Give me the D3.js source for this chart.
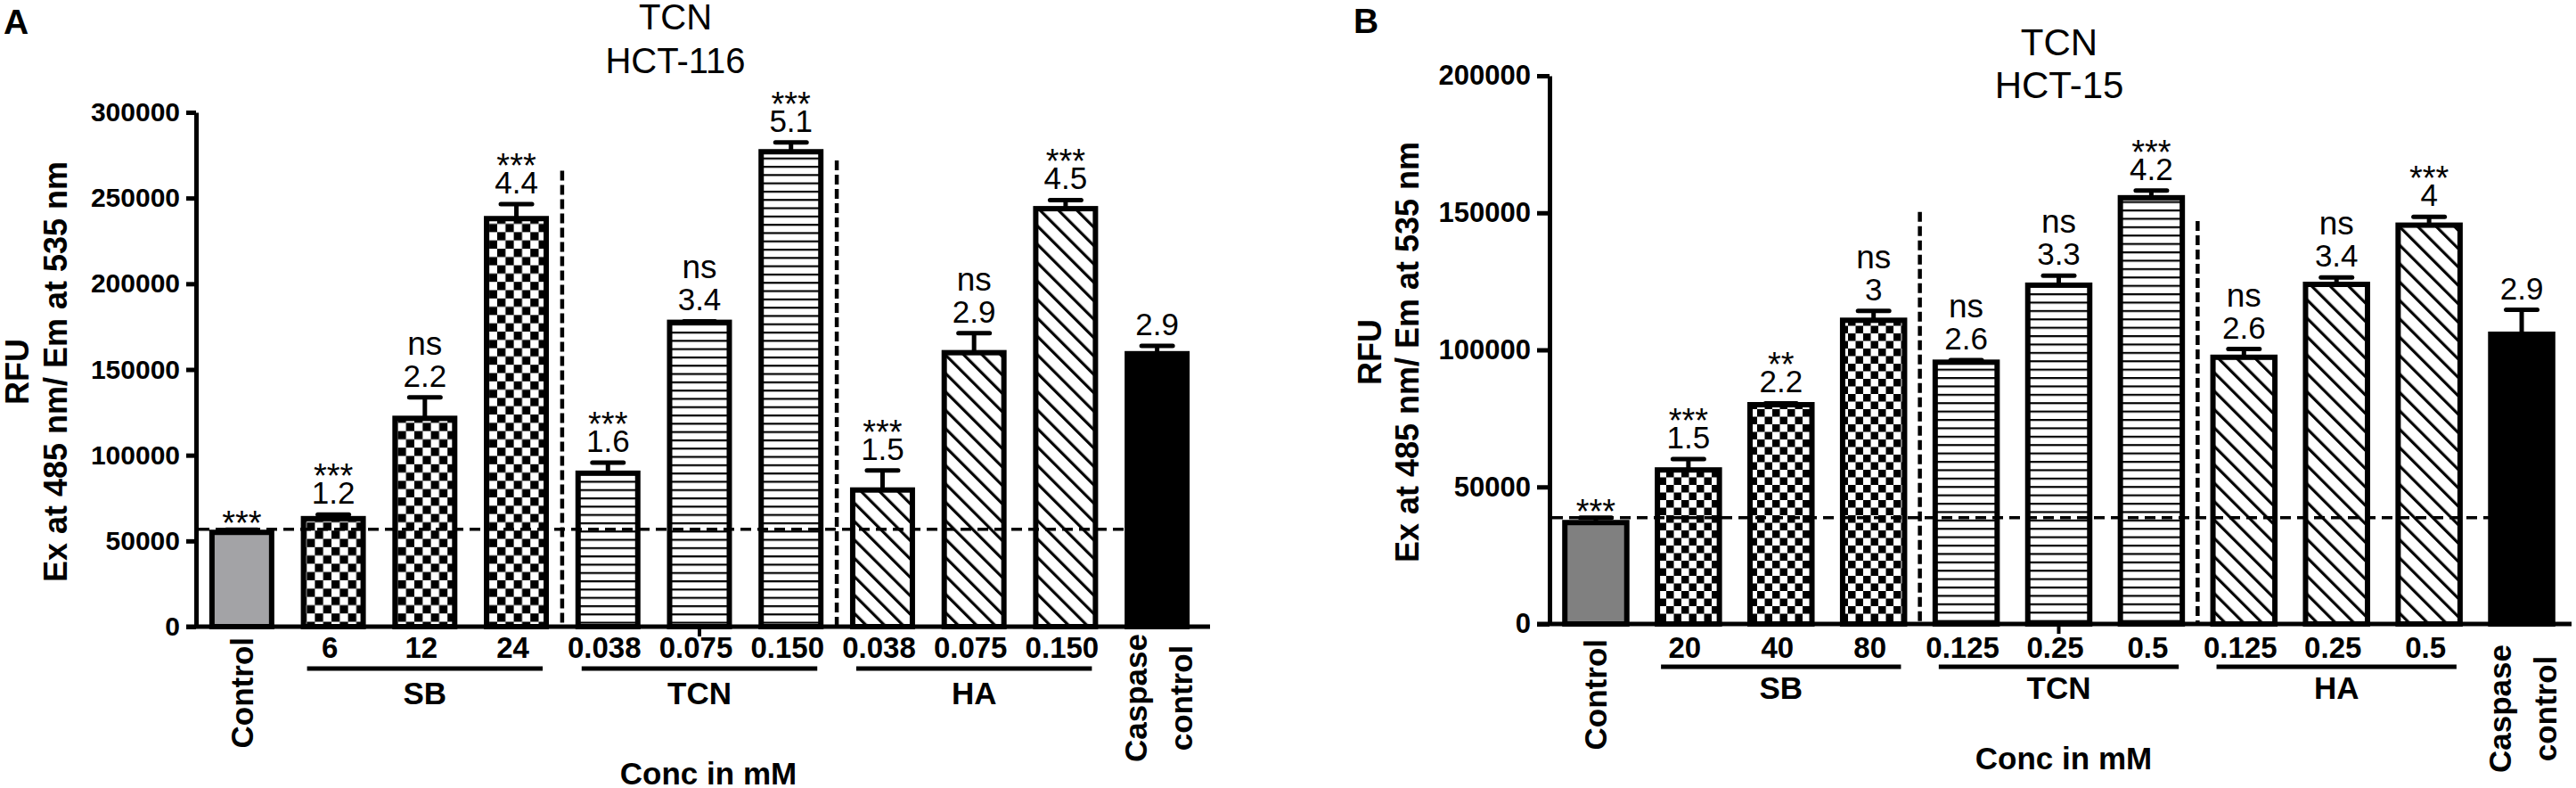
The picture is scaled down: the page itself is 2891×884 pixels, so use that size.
<!DOCTYPE html>
<html><head><meta charset="utf-8">
<script src="https://cdn.jsdelivr.net/npm/d3@7"></script>
<style>
body{margin:0;background:#fff}
svg text{font-family:"Liberation Sans",Arial,Helvetica,sans-serif;fill:#000}
</style>
</head><body>
<svg id="chart" width="2891" height="884"></svg>
<script>
// ---------------- DATA ----------------
const xGroups = ["SB", "TCN", "HA"];
const groupsA = ["Control","SB","SB","SB","TCN","TCN","TCN","HA","HA","HA","Caspase"];
const groupsB = ["Control","SB","SB","SB","TCN","TCN","TCN","HA","HA","HA","Caspase"];
const fillKinds = ["control","checker","checker","checker","hlines","hlines","hlines","hatch","hatch","hatch","solid"];

const labelsA = ["Control","6","12","24","0.038","0.075","0.150","0.038","0.075","0.150","Caspase control"];
const meansA  = [55000, 63000, 121500, 238000, 89500, 177500, 277000, 79700, 159800, 243800, 159200];
const errorsA = [1500, 2400, 12200, 8500, 6200, 600, 5500, 11400, 11400, 5000, 4600];
const foldA   = ["", "1.2", "2.2", "4.4", "1.6", "3.4", "5.1", "1.5", "2.9", "4.5", "2.9"];
const sigA    = ["***", "***", "ns", "***", "***", "ns", "***", "***", "ns", "***", ""];
const yTicksA = [0, 50000, 100000, 150000, 200000, 250000, 300000];
const refLineA = 56800;
const sepAfterA = [3, 6];
const sepTopsA = [265900, 271900];

const labelsB = ["Control","20","40","80","0.125","0.25","0.5","0.125","0.25","0.5","Caspase control"];
const meansB  = [37000, 56200, 80000, 110800, 95500, 123600, 155500, 97300, 123900, 145500, 105700];
const errorsB = [1800, 4000, 500, 3400, 800, 3500, 2600, 3000, 2500, 3000, 8900];
const foldB   = ["", "1.5", "2.2", "3", "2.6", "3.3", "4.2", "2.6", "3.4", "4", "2.9"];
const sigB    = ["***", "***", "**", "ns", "ns", "ns", "***", "ns", "ns", "***", ""];
const yTicksB = [0, 50000, 100000, 150000, 200000];
const refLineB = 38800;
const sepAfterB = [3, 6];
const sepTopsB = [150300, 147000];

const titleA = ["TCN", "HCT-116"];
const titleB = ["TCN", "HCT-15"];
const yTitle = ["RFU", "Ex at 485 nm/ Em at 535 nm"];
const xTitle = "Conc in mM";

// ---------------- LAYOUT ----------------
const layoutA = {
  id:"A", letterX:4, letterY:38,
  axisX:220, axisEnd:1358, yTop:126, y0:703, bandEnd:1350, pad:0.348,
  tickLen:11, tickGap:7, tickFont:30,
  titleX:758, titleY:[33,82], titleFont:40,
  yTitleX:[32,75], yTitleY:417,
  xLabelY:738, groupLineY:750, groupNameY:790, rotTop:715, caspY:783,
  concX:795, concY:880,
  checker:9.3, hline:9.3, hatch:14.6, controlFill:"#a3a3a6"
};
const layoutB = {
  id:"B", letterX:1519, letterY:37,
  axisX:1739, axisEnd:2886, yTop:85, y0:700, bandEnd:2882, pad:0.331,
  tickLen:14, tickGap:7, tickFont:31,
  titleX:2311, titleY:[62,110], titleFont:42,
  yTitleX:[1550,1592], yTitleY:395,
  xLabelY:738, groupLineY:748, groupNameY:784, rotTop:717, caspY:795,
  concX:2316, concY:863,
  checker:8.5, hline:9.4, hatch:14.6, controlFill:"#808080"
};

const svg = d3.select("#chart");
const defs = svg.append("defs");

function makePatterns(L) {
  const c = L.checker;
  const pc = defs.append("pattern").attr("id","checker"+L.id)
    .attr("patternUnits","userSpaceOnUse").attr("width",2*c).attr("height",2*c);
  pc.append("rect").attr("width",2*c).attr("height",2*c).attr("fill","#fff");
  pc.append("rect").attr("width",c).attr("height",c).attr("fill","#000");
  pc.append("rect").attr("x",c).attr("y",c).attr("width",c).attr("height",c).attr("fill","#000");

  const ph = defs.append("pattern").attr("id","hlines"+L.id)
    .attr("patternUnits","userSpaceOnUse").attr("width",10).attr("height",L.hline);
  ph.append("rect").attr("width",10).attr("height",L.hline).attr("fill","#fff");
  ph.append("rect").attr("width",10).attr("height",2.2).attr("fill","#000");

  const pd = defs.append("pattern").attr("id","hatch"+L.id)
    .attr("patternUnits","userSpaceOnUse").attr("width",L.hatch).attr("height",10)
    .attr("patternTransform","rotate(-45)");
  pd.append("rect").attr("width",L.hatch).attr("height",10).attr("fill","#fff");
  pd.append("rect").attr("width",3.2).attr("height",10).attr("fill","#000");
}

function drawPanel(L, d) {
  makePatterns(L);
  const n = d.labels.length;
  const x = d3.scaleBand().domain(d3.range(n))
    .range([L.axisX, L.bandEnd]).paddingInner(L.pad).paddingOuter(L.pad/2);
  const y = d3.scaleLinear().domain([0, d3.max(d.yTicks)]).range([L.y0, L.yTop]);
  const bw = x.bandwidth();
  const cxOf = i => x(i) + bw/2;
  const g = svg.append("g");

  const fillFor = k => k === "control" ? L.controlFill
    : k === "solid" ? "#000" : `url(#${k}${L.id})`;

  // panel letter
  g.append("text").attr("x",L.letterX).attr("y",L.letterY)
    .attr("font-size",39).attr("font-weight","bold").text(L.id);

  // title
  d.title.forEach((t,i) => g.append("text").attr("x",L.titleX).attr("y",L.titleY[i])
    .attr("text-anchor","middle").attr("font-size",L.titleFont).text(t));

  // y axis title
  const yt = g.append("g").attr("transform",`translate(0,${L.yTitleY}) rotate(-90)`);
  d.yTitle.forEach((t,i) => yt.append("text").attr("x",0).attr("y",L.yTitleX[i])
    .attr("text-anchor","middle").attr("font-size",36).attr("font-weight","bold").text(t));

  // bars
  g.selectAll("rect.bar").data(d.means).join("rect").attr("class","bar")
    .attr("x",(v,i)=>x(i)).attr("y",v=>y(v))
    .attr("width",bw).attr("height",v=>y(0)-y(v))
    .attr("fill",(v,i)=>fillFor(d.kinds[i]))
    .attr("stroke","#000").attr("stroke-width",6);

  // error bars
  d.means.forEach((m,i) => {
    const cx = cxOf(i), yt1 = y(m), yt2 = y(m + d.errors[i]);
    g.append("line").attr("x1",cx).attr("x2",cx).attr("y1",yt1).attr("y2",yt2)
      .attr("stroke","#000").attr("stroke-width",5);
    g.append("line").attr("x1",cx-17.5).attr("x2",cx+17.5).attr("y1",yt2).attr("y2",yt2)
      .attr("stroke","#000").attr("stroke-width",5).attr("stroke-linecap","round");
  });

  // annotations
  d.means.forEach((m,i) => {
    const cx = cxOf(i), capY = y(m + d.errors[i]);
    const nb = capY - 12;
    if (d.fold[i]) g.append("text").attr("x",cx).attr("y",nb)
      .attr("text-anchor","middle").attr("font-size",35).text(d.fold[i]);
    const s = d.sig[i];
    if (s) {
      if (s === "ns") {
        g.append("text").attr("x",cx).attr("y",nb-36).attr("text-anchor","middle")
          .attr("font-size",37).text(s);
      } else {
        const base = d.fold[i] ? nb - 18 : capY + 6;
        g.append("text").attr("x",cx).attr("y",base).attr("text-anchor","middle")
          .attr("font-size",38).text(s);
      }
    }
  });

  // horizontal dashed reference line (ends at caspase bar)
  g.append("line").attr("x1",L.axisX+3).attr("x2",x(n-1))
    .attr("y1",y(d.refLine)).attr("y2",y(d.refLine))
    .attr("stroke","#000").attr("stroke-width",3.5).attr("stroke-dasharray","12,7");

  // vertical separators
  d.sepAfter.forEach((k,j) => {
    const sx = (x(k) + bw + x(k+1)) / 2;
    g.append("line").attr("x1",sx).attr("x2",sx).attr("y1",y(d.sepTops[j])).attr("y2",y(0))
      .attr("stroke","#000").attr("stroke-width",4.5).attr("stroke-dasharray","11,5");
  });

  // y axis
  const ax = g.append("g").attr("transform",`translate(${L.axisX},0)`)
    .call(d3.axisLeft(y).tickValues(d.yTicks).tickFormat(d3.format("d"))
      .tickSize(L.tickLen).tickSizeOuter(0).tickPadding(L.tickGap));
  ax.select(".domain").attr("stroke","#000").attr("stroke-width",5);
  ax.selectAll(".tick line").attr("stroke","#000").attr("stroke-width",5);
  ax.selectAll(".tick text").attr("font-size",L.tickFont).attr("font-weight","bold")
    .attr("font-family",'"Liberation Sans",Arial,sans-serif').attr("fill","#000");

  // x axis line
  g.append("line").attr("x1",L.axisX-L.tickLen).attr("x2",L.axisEnd)
    .attr("y1",y(0)).attr("y2",y(0)).attr("stroke","#000").attr("stroke-width",5);
  // middle x tick
  const mid = Math.floor(n/2);
  g.append("line").attr("x1",cxOf(mid)).attr("x2",cxOf(mid))
    .attr("y1",y(0)).attr("y2",y(0)+11).attr("stroke","#000").attr("stroke-width",4);

  // x labels
  d.labels.forEach((lab,i) => {
    const cx = cxOf(i), grp = d.groups[i];
    if (grp === "Control") {
      g.append("text").attr("transform",`translate(${cx},${L.rotTop}) rotate(-90)`)
        .attr("text-anchor","end").attr("y",12.5)
        .attr("font-size",35).attr("font-weight","bold").text(lab);
    } else if (grp === "Caspase") {
      const parts = lab.split(" ");
      const rg = g.append("g").attr("transform",`translate(${cx},${L.caspY}) rotate(-90)`);
      rg.append("text").attr("y",-12).attr("text-anchor","middle")
        .attr("font-size",35).attr("font-weight","bold").text(parts[0]);
      rg.append("text").attr("y",39).attr("text-anchor","middle")
        .attr("font-size",35).attr("font-weight","bold").text(parts[1]);
    } else {
      g.append("text").attr("x",cx-4).attr("y",L.xLabelY).attr("text-anchor","middle")
        .attr("font-size",33).attr("font-weight","bold").text(lab);
    }
  });

  // group lines and names
  xGroups.forEach(gn => {
    const idx = d.groups.map((v,i)=>v===gn?i:-1).filter(i=>i>=0);
    const x1 = x(idx[0]) + 4, x2 = x(idx[idx.length-1]) + bw - 4;
    g.append("line").attr("x1",x1).attr("x2",x2).attr("y1",L.groupLineY).attr("y2",L.groupLineY)
      .attr("stroke","#000").attr("stroke-width",5);
    const midI = idx[Math.floor(idx.length/2)];
    g.append("text").attr("x",cxOf(midI)).attr("y",L.groupNameY).attr("text-anchor","middle")
      .attr("font-size",35).attr("font-weight","bold").text(gn);
  });

  // x title
  g.append("text").attr("x",L.concX).attr("y",L.concY).attr("text-anchor","middle")
    .attr("font-size",35).attr("font-weight","bold").text(d.xTitle);
}

drawPanel(layoutA, {
  labels:labelsA, groups:groupsA, kinds:fillKinds, means:meansA, errors:errorsA,
  fold:foldA, sig:sigA, yTicks:yTicksA, refLine:refLineA, sepAfter:sepAfterA,
  sepTops:sepTopsA, title:titleA, yTitle:yTitle, xTitle:xTitle
});
drawPanel(layoutB, {
  labels:labelsB, groups:groupsB, kinds:fillKinds, means:meansB, errors:errorsB,
  fold:foldB, sig:sigB, yTicks:yTicksB, refLine:refLineB, sepAfter:sepAfterB,
  sepTops:sepTopsB, title:titleB, yTitle:yTitle, xTitle:xTitle
});
</script>
</body></html>
